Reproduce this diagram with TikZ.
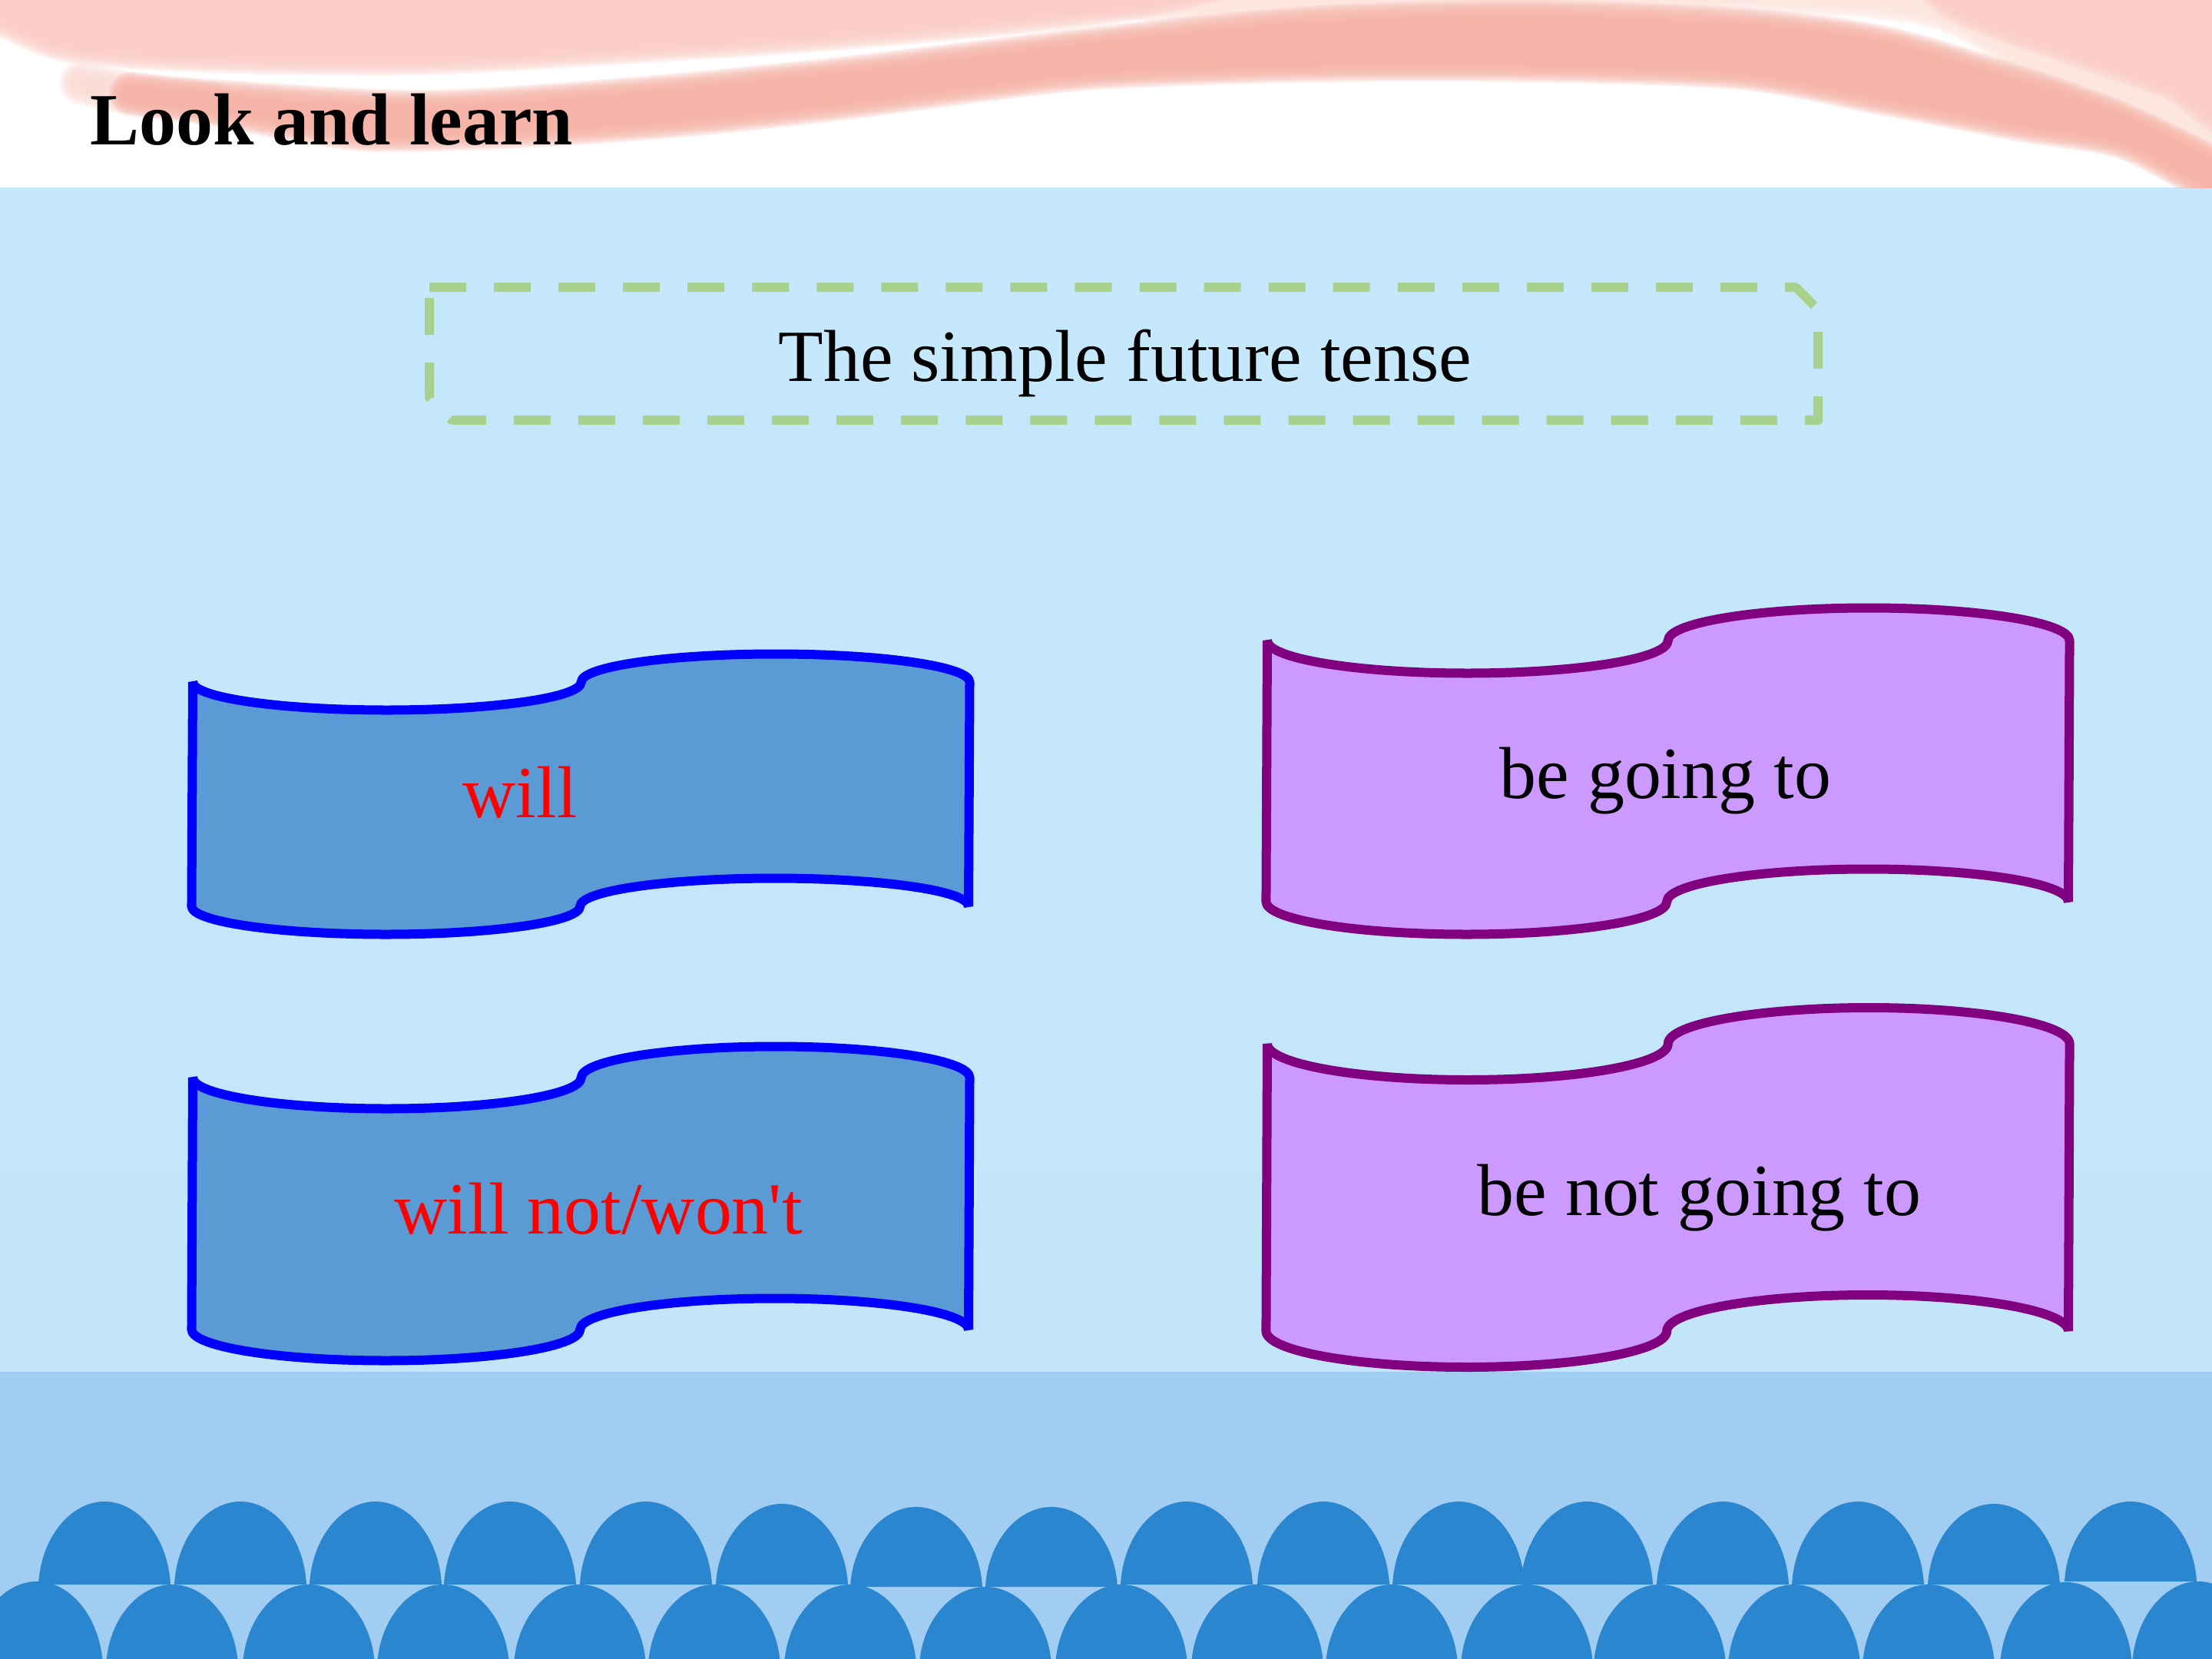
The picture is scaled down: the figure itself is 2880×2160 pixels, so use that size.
\documentclass[tikz,border=0pt]{standalone}
\usepackage{fontspec}
\setmainfont{Liberation Serif}
\newfontfamily\straightserif{Liberation Serif}
\definecolor{skyback}{HTML}{C6E8FC}
\definecolor{skylow}{HTML}{C2E5F9}
\definecolor{seaband}{HTML}{A0CDF1}
\definecolor{domeblue}{HTML}{2A86CE}
\definecolor{tapeblue}{HTML}{5B9BD5}
\definecolor{tapepurple}{HTML}{CC99FF}
\definecolor{edgepurple}{HTML}{800080}
\definecolor{dashgreen}{HTML}{A9D18E}
\definecolor{blush}{HTML}{FBCEC8}
\definecolor{salmon}{HTML}{F6B3A7}
\definecolor{peach}{HTML}{FDE6DF}

% Punched-tape banner: left, middle, right, top edge, bottom edge, wave depth, colours
\newcommand{\tapeshape}[8]{%
  \pgfmathsetlengthmacro{\rxa}{(#2-#1)*0.005cm}%
  \pgfmathsetlengthmacro{\rxb}{(#3-#2)*0.005cm}%
  \pgfmathsetlengthmacro{\rya}{#6*0.01cm}%
  \draw[tapeline,draw=#7,fill=#8] (#1,#4)
    arc[start angle=180,end angle=360,x radius=\rxa,y radius=\rya]
    arc[start angle=180,end angle=0,x radius=\rxb,y radius=\rya]
    -- (#3,#5)
    arc[start angle=0,end angle=180,x radius=\rxb,y radius=\rya]
    arc[start angle=360,end angle=180,x radius=\rxa,y radius=\rya]
    -- cycle;}

% Soft-edged patch built from stacked translucent outlines
\newcommand{\softpatch}[2]{%
  \foreach \w in {56,52,...,4,0}{%
    \path[draw=#1,fill=#1,opacity=0.22,line join=round,line width=\w*0.01cm] #2;}}

% One dome of the wave pattern: centre, half width, top, base
\newcommand{\dome}[4]{%
  \fill[domeblue] ({#1-#2},#4)
    .. controls ({#1-0.96*#2},{#4-0.58*(#4-#3)}) and ({#1-0.5*#2},#3) .. (#1,#3)
    .. controls ({#1+0.5*#2},#3) and ({#1+0.96*#2},{#4-0.58*(#4-#3)}) .. ({#1+#2},#4)
    -- cycle;}

\tikzset{
  px/.style={x=0.01cm,y=-0.01cm},
  tapeline/.style={line width=0.12cm,miter limit=1},
  caption/.style={inner sep=0pt,anchor=base west,font=\fontsize{27.25}{32}\selectfont},
  heading/.style={caption,font=\fontsize{27.25}{32}\selectfont\bfseries},
  dashframe/.style={draw=dashgreen,line width=0.12cm,line join=round,dash pattern=on 0.48cm off 0.36cm}
}

\begin{document}
\begin{tikzpicture}[px]
\useasboundingbox (0,0) rectangle (2880,2160);
\begin{scope}
\clip (0,0) rectangle (2880,2160);

% backdrop
\fill[white] (0,0) rectangle (2880,244);
\shade[top color=skyback,bottom color=skylow] (0,244) rectangle (2880,1786);
\fill[seaband] (0,1786) rectangle (2880,2160);

% ribbon across the head of the slide
\begin{scope}
\clip (0,0) rectangle (2880,244);
\softpatch{peach}{plot[smooth] coordinates {(1300,-40) (1500,2) (1800,-10) (2300,-10) (2520,10) (2660,85) (2800,160) (2920,230) (2960,100) (2700,-40)} -- cycle}
\softpatch{blush}{plot[smooth] coordinates {(-60,-60) (-40,10) (0,19) (92,54) (275,67) (550,70) (826,55) (1100,37) (1440,4) (1640,-40)} -- cycle}
\softpatch{blush}{plot[smooth] coordinates {(2500,-40) (2555,5) (2690,55) (2828,103) (2920,150) (2960,-40)} -- cycle}
\softpatch{salmon!45!white}{plot[smooth] coordinates {(105,108) (180,122) (280,134) (180,126)} -- cycle}
\softpatch{salmon}{plot[smooth] coordinates {(170,122) (275,131) (551,145) (826,128) (1102,101) (1440,61) (1715,35) (1991,28) (2267,38) (2450,61) (2634,115) (2772,165) (2920,240) (2920,262) (2772,182) (2634,157) (2450,122) (2267,89) (1991,79) (1715,79) (1440,88) (1286,104) (1102,128) (918,148) (762,160) (600,168) (459,168) (275,136) (190,124)} -- cycle}
\end{scope}

% two rows of domes at the foot
\foreach \cx/\ytop/\ybase in {136/1955/2063,313/1955/2063,489/1955/2063,664/1955/2063,841/1955/2063,
    1018/1958/2063,1193/1962/2066,1369/1962/2066,1545/1955/2063,1723/1955/2063,1899/1955/2063,
    2066/1955/2063,2243/1955/2063,2419/1955/2063,2596/1958/2063,2774/1955/2059}{
  \dome{\cx}{86}{\ytop}{\ybase}}
\foreach \cx/\ytop in {48/2059,224/2063,402/2063,577/2063,755/2063,930/2063,1107/2063,1283/2066,
    1460/2063,1637/2063,1812/2063,1988/2063,2161/2063,2336/2063,2511/2063,2690/2060,2862/2059}{
  \dome{\cx}{86}{\ytop}{2168}}
\end{scope}

% dashed heading frame with two snipped corners
\draw[dashframe] (559,374) -- (2338,374) -- (2367,403) -- (2367,547) -- (588,547) -- (559,518) -- cycle;
\node[caption] (tense) at (1013,496) {The simple future tense};

% four banners
\tapeshape{251}{756}{1261}{888}{1180}{36.5}{blue}{tapeblue}
\tapeshape{251}{756}{1261}{1403}{1731}{40.5}{blue}{tapeblue}
\tapeshape{1650}{2171}{2693}{834}{1174}{42.5}{edgepurple}{tapepurple}
\tapeshape{1650}{2171}{2693}{1359}{1733}{47}{edgepurple}{tapepurple}

\node[caption,text=red] (will) at (602,1064) {will};
\node[caption,text=red] (wont) at (513,1606) {\straightserif will not/won't};
\node[caption] (going) at (1952,1039) {be going to};
\node[caption] (notgoing) at (1923,1582) {be not going to};

\node[heading] (title) at (117,188) {Look and learn};
\end{tikzpicture}
\end{document}
